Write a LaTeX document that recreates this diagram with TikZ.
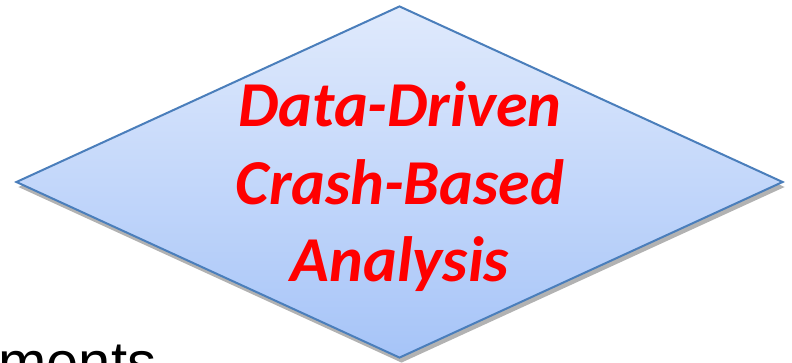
\documentclass[tikz,border=0pt]{standalone}
\usepackage{fontspec}
\setmainfont{Carlito}
\newfontfamily\arialfont{Liberation Sans}
\usetikzlibrary{shapes.geometric,shadows}
\definecolor{diaTop}{HTML}{E0EAFC}
\definecolor{diaBot}{HTML}{A6C4F8}
\definecolor{diaLine}{HTML}{4A7EBB}
\definecolor{redText}{HTML}{FF0000}
\begin{document}
\begin{tikzpicture}[x=1pt,y=-1pt]
        \tikzset{
            decision/.style={diamond, draw=diaLine, line width=2pt, top color=diaTop, bottom color=diaBot,
                minimum width=767pt, minimum height=352pt, inner sep=0pt,
                drop shadow={shadow xshift=2pt, shadow yshift=-5pt, opacity=0.3, fill=black}},
            label/.style={anchor=base, text=redText, font=\fontsize{64}{77}\selectfont\bfseries\itshape, inner sep=0pt},
            under/.style={anchor=base west, font=\arialfont\fontsize{58}{70}\selectfont, inner sep=0pt}
        }
        \useasboundingbox (0,0) rectangle (792,362);

        \node[under] (ments) at (-2,382) {ments};
        \node[decision] (dec) at (399.5,182) {};

        \node[label] (line1) at (400,126) {Data-Driven};
        \node[label] (line2) at (400,204) {Crash-Based};
        \node[label] (line3) at (400,281) {Analysis};
\end{tikzpicture}
\end{document}
